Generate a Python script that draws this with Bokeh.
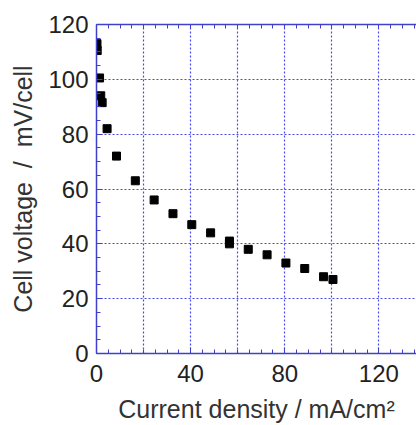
from bokeh.plotting import figure
from bokeh.models import LinearAxis, SingleIntervalTicker, FixedTicker, Range1d
from bokeh.embed import file_html
from bokeh.resources import INLINE

current_density = [0.2, 0.3, 1.3, 1.8, 2.4, 4.5, 8.5, 16.5, 24.5, 32.5, 40.5, 48.5, 56.5, 56.5, 64.5, 72.5, 80.5, 88.5, 96.5, 100.5]
cell_voltage = [113, 110.5, 100.5, 94, 91.5, 82, 72, 63, 56, 51, 47, 44, 41, 40, 38, 36, 33, 31, 28, 27]

top_minor_ticks = list(range(0, 141, 5))

AX = "#4040cc"
GRID = "#4a4af0"
FONT = "Liberation Sans"

p = figure(width=416, height=425, output_backend="svg", toolbar_location=None,
           x_range=Range1d(0, 136), y_range=Range1d(0, 120),
           x_axis_location=None, y_axis_location=None,
           min_border_left=96, min_border_right=0, min_border_top=24, min_border_bottom=72)
p.outline_line_color = None
p.background_fill_color = "white"

xt_bottom = SingleIntervalTicker(interval=40, num_minor_ticks=8)
xt_grid = SingleIntervalTicker(interval=20, num_minor_ticks=4)
yt = SingleIntervalTicker(interval=20, num_minor_ticks=4)

def style(ax):
    ax.axis_line_color = AX
    ax.axis_line_width = 1.5
    ax.major_tick_line_color = AX
    ax.minor_tick_line_color = AX
    ax.major_tick_in = 6
    ax.major_tick_out = 0
    ax.minor_tick_in = 4
    ax.minor_tick_out = 0
    ax.major_label_text_font = FONT
    ax.major_label_text_font_size = "24px"
    ax.major_label_text_color = "#222222"
    ax.axis_label_text_font = FONT
    ax.axis_label_text_font_style = "normal"
    ax.axis_label_text_color = "#333333"

xb = LinearAxis(ticker=xt_bottom, axis_label="Current density / mA/cm²")
style(xb)
xb.major_label_standoff = 11
xb.axis_label_text_font_size = "25px"
xb.axis_label_standoff = 10
p.add_layout(xb, "below")

xtop = LinearAxis(ticker=FixedTicker(ticks=[], minor_ticks=top_minor_ticks))
style(xtop)
p.add_layout(xtop, "above")

yl = LinearAxis(ticker=yt, axis_label="Cell voltage\u00a0 /\u00a0 mV/cell")
style(yl)
yl.major_label_standoff = 8
yl.axis_label_text_font_size = "25px"
yl.axis_label_standoff = 8
p.add_layout(yl, "left")

p.xgrid.ticker = xt_grid
p.ygrid.ticker = yt
for g in (p.xgrid, p.ygrid):
    g.grid_line_color = GRID
    g.grid_line_dash = "2 2"
    g.grid_line_width = 1.2
    g.grid_line_alpha = 1.0

p.scatter(current_density, cell_voltage, marker="square", size=8, color="black")

open("out.html", "w").write(file_html(p, INLINE))
